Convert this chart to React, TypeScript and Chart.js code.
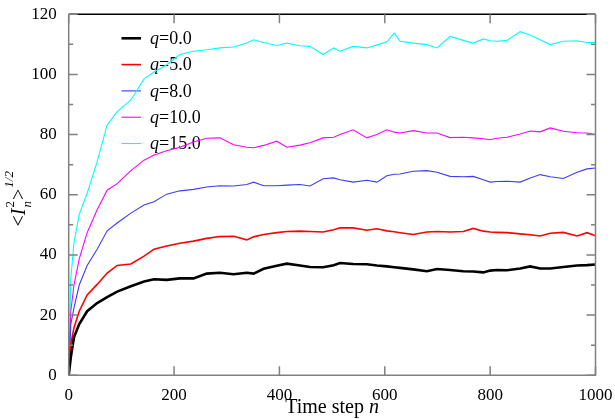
import React, { useEffect, useRef } from "react";
import { Chart, registerables } from "chart.js";

Chart.register(...registerables);

// time steps at which the curves were read
const steps = [
  0, 4, 10, 20, 35, 54, 73, 92, 118, 143, 162, 186, 211, 237, 262, 287, 313, 338, 351, 370,
  395, 414, 439, 458, 483, 503, 515, 540, 566, 585, 604, 618, 629, 654, 680, 699, 724, 749,
  768, 787, 800, 813, 832, 857, 876, 895, 914, 939, 965, 984, 1000,
];

const q0 = [
  0, 6, 12.6, 17, 21.3, 24, 26, 27.8, 29.6, 31.2, 31.9, 31.7, 32.2, 32.2, 33.8, 34.1, 33.6, 34.1,
  33.8, 35.4, 36.4, 37.1, 36.5, 36.0, 35.9, 36.6, 37.3, 37.0, 36.9, 36.5, 36.2, 35.9, 35.7, 35.2,
  34.6, 35.3, 35.0, 34.6, 34.5, 34.2, 34.8, 35.0, 34.9, 35.5, 36.2, 35.5, 35.5, 36.0, 36.5, 36.6,
  36.8,
];
const q5 = [
  0, 10.4, 15.8, 21.3, 26.7, 30.2, 34.0, 36.5, 37.0, 39.6, 41.9, 43.0, 43.9, 44.6, 45.5, 46.1,
  46.2, 45.0, 46.0, 46.8, 47.4, 47.8, 47.9, 47.8, 47.6, 48.4, 49.0, 49.0, 48.2, 48.7, 48.0, 47.7,
  47.4, 46.8, 47.6, 47.8, 47.6, 47.8, 48.8, 47.9, 47.6, 47.5, 47.4, 47.0, 46.7, 46.3, 47.2, 47.5,
  46.3, 47.4, 46.4,
];
const q8 = [
  0, 17, 22.4, 30, 36.5, 41.9, 48.0, 50.6, 53.9, 56.6, 57.7, 60.2, 61.3, 61.8, 62.6, 63.0, 62.9,
  63.4, 64.2, 63.0, 63.0, 63.2, 63.4, 62.9, 65.3, 65.6, 65.0, 64.2, 64.8, 64.2, 66.3, 66.8, 66.9,
  67.8, 68.0, 67.5, 66.1, 66.0, 66.1, 65.0, 64.2, 64.4, 64.5, 64.2, 65.6, 66.7, 66.0, 65.4, 67.5,
  68.6, 68.9,
];
const q10 = [
  0, 21.3, 30, 38.7, 47.4, 55, 61.5, 63.7, 68, 71.5, 73.2, 74.6, 75.8, 77.5, 78.8, 78.9, 76.6,
  75.8, 75.6, 76.4, 77.8, 75.8, 76.5, 77.3, 78.9, 79.1, 80.0, 81.6, 78.9, 80.0, 81.6, 80.8, 80.5,
  81.3, 80.5, 80.5, 79.0, 79.1, 78.9, 78.6, 78.3, 78.8, 79.1, 80.2, 81.2, 80.9, 82.2, 81.1, 80.6,
  80.5, 80.0,
];
const q15 = [
  0, 32.2, 44.1, 53.5, 60.5, 71, 83.2, 87.6, 91.5, 98.5, 100.8, 103.2, 106.6, 107.7, 108.2, 108.8,
  109.1, 110.4, 111.5, 110.6, 109.6, 110.4, 109.5, 109.3, 106.6, 108.8, 107.7, 109.3, 108.8, 109.8,
  110.8, 113.7, 111.0, 110.4, 109.9, 108.8, 112.6, 111.3, 110.4, 111.8, 111.2, 111.0, 111.3, 114.2,
  113.1, 111.5, 109.9, 111.0, 111.2, 110.6, 110.6,
];

const qValues = [0, 5, 8, 10, 15];
const seriesValues = [q0, q5, q8, q10, q15];
const seriesColors = ["#000000", "#ff0000", "#3c3cff", "#ff00ff", "#00ffff"];
const seriesWidths = [2.6, 1.6, 1.1, 1.1, 1.1];

const xTicks = [0, 200, 400, 600, 800, 1000];
const yTicks = [0, 20, 40, 60, 80, 100, 120];

const SERIF = '"Liberation Serif"';
const AXIS_GREY = "#808080";

const framePlugin = {
  id: "frame",
  afterDraw(chart: any) {
    const { ctx, chartArea: a, scales } = chart;
    const xs = scales.x;
    const ys = scales.y;
    ctx.save();
    ctx.lineWidth = 1.5;
    ctx.strokeStyle = AXIS_GREY;
    ctx.beginPath();
    ctx.moveTo(a.left, a.top);
    ctx.lineTo(a.left, a.bottom);
    ctx.lineTo(a.right, a.bottom);
    ctx.lineTo(a.right, a.top);
    ctx.stroke();
    ctx.strokeStyle = "#000";
    ctx.beginPath();
    ctx.moveTo(a.left, a.top);
    ctx.lineTo(a.right, a.top);
    ctx.stroke();

    // inward ticks
    ctx.strokeStyle = AXIS_GREY;
    ctx.beginPath();
    xTicks.forEach((v) => {
      const px = xs.getPixelForValue(v);
      ctx.moveTo(px, a.bottom);
      ctx.lineTo(px, a.bottom - 9);
      ctx.moveTo(px, a.top);
      ctx.lineTo(px, a.top + 9);
    });
    for (let v = 0; v <= 120; v += 10) {
      const py = ys.getPixelForValue(v);
      const len = v % 20 === 0 ? 9 : 4.5;
      ctx.moveTo(a.left, py);
      ctx.lineTo(a.left + len, py);
      ctx.moveTo(a.right, py);
      ctx.lineTo(a.right - len, py);
    }
    ctx.stroke();

    // x title
    ctx.fillStyle = "#000";
    ctx.textBaseline = "alphabetic";
    const cx = (a.left + a.right) / 2;
    ctx.font = `20px ${SERIF}`;
    const t1 = "Time step ";
    const w1 = ctx.measureText(t1).width;
    ctx.font = `italic 20px ${SERIF}`;
    const w2 = ctx.measureText("n").width;
    const x0 = cx - (w1 + w2) / 2;
    ctx.font = `20px ${SERIF}`;
    ctx.textAlign = "left";
    ctx.fillText(t1, x0, 413);
    ctx.font = `italic 20px ${SERIF}`;
    ctx.fillText("n", x0 + w1, 413);

    // y title  <I_n^2>^{1/2}
    ctx.translate(25, (a.top + a.bottom) / 2 + 4);
    ctx.rotate(-Math.PI / 2);
    const big = `20px ${SERIF}`;
    const bigI = `italic 20px ${SERIF}`;
    const sm = `13px ${SERIF}`;
    const smI = `italic 13px ${SERIF}`;
    ctx.font = big;
    const wLt = ctx.measureText("<").width;
    const wGt = ctx.measureText(">").width;
    ctx.font = bigI;
    const wI = ctx.measureText("I").width;
    ctx.font = sm;
    const w2s = ctx.measureText("2").width;
    ctx.font = smI;
    const wn = ctx.measureText("n").width;
    const wh = ctx.measureText("1/2").width;
    const wSub = Math.max(w2s, wn) + 1;
    const total = wLt + wI + 1 + wSub + wGt + 1 + wh;
    let x = -total / 2;
    ctx.font = big;
    ctx.fillText("<", x, 0);
    x += wLt;
    ctx.font = bigI;
    ctx.fillText("I", x, 0);
    x += wI + 1;
    ctx.font = sm;
    ctx.fillText("2", x, -11);
    ctx.font = smI;
    ctx.fillText("n", x, 6);
    x += wSub;
    ctx.font = big;
    ctx.fillText(">", x, 0);
    x += wGt + 1;
    ctx.font = smI;
    ctx.fillText("1/2", x, -12);
    ctx.restore();
  },
};

const legendPlugin = {
  id: "qLegend",
  beforeDatasetsDraw(chart: any) {
    const { ctx } = chart;
    ctx.save();
    qValues.forEach((q, i) => {
      const y = 38.3 + i * 26.3;
      ctx.strokeStyle = seriesColors[i];
      ctx.lineWidth = seriesWidths[i];
      ctx.beginPath();
      ctx.moveTo(121.5, y);
      ctx.lineTo(141, y);
      ctx.stroke();
      ctx.fillStyle = "#000";
      ctx.textBaseline = "middle";
      ctx.textAlign = "left";
      ctx.font = `italic 18px ${SERIF}`;
      ctx.fillText("q", 150, y + 1);
      const wq = ctx.measureText("q").width;
      ctx.font = `18px ${SERIF}`;
      ctx.fillText("=" + q.toFixed(1), 150 + wq, y + 1);
    });
    ctx.restore();
  },
};

export default function App() {
  const canvasRef = useRef<HTMLCanvasElement | null>(null);

  useEffect(() => {
    if (!canvasRef.current) return;
    const ctx = canvasRef.current.getContext("2d");
    if (!ctx) return;

    const chart = new Chart(ctx, {
      type: "line",
      data: {
        datasets: seriesValues.map((vals, i) => ({
          label: "q=" + qValues[i].toFixed(1),
          data: steps.map((s, k) => ({ x: s, y: vals[k] })),
          borderColor: seriesColors[i],
          backgroundColor: seriesColors[i],
          borderWidth: seriesWidths[i],
          pointRadius: 0,
          tension: 0,
          fill: false,
        })),
      },
      options: {
        animation: false,
        responsive: true,
        maintainAspectRatio: false,
        layout: { padding: { top: 7, right: 19.5, left: 0, bottom: 0 } },
        plugins: { legend: { display: false }, tooltip: { enabled: false } },
        scales: {
          x: {
            type: "linear",
            min: 0,
            max: 1000,
            afterBuildTicks: (s: any) => {
              s.ticks = xTicks.map((v) => ({ value: v }));
            },
            afterFit: (s: any) => {
              s.height = 43.7;
            },
            ticks: {
              color: "#000",
              font: { family: SERIF, size: 17 },
              padding: 2,
              maxRotation: 0,
              autoSkip: false,
              callback: (v: any) => String(v),
            },
            grid: { display: false },
            border: { display: false },
          },
          y: {
            type: "linear",
            min: 0,
            max: 120,
            afterBuildTicks: (s: any) => {
              s.ticks = yTicks.map((v) => ({ value: v }));
            },
            afterFit: (s: any) => {
              s.width = 68.7;
            },
            ticks: {
              color: "#000",
              font: { family: SERIF, size: 17 },
              padding: 4,
              autoSkip: false,
              callback: (v: any) => String(v),
            },
            grid: { display: false },
            border: { display: false },
          },
        },
      },
      plugins: [legendPlugin, framePlugin],
    } as any);
    return () => chart.destroy();
  }, []);

  return (
    <div style={{ position: "fixed", left: 0, top: 0, width: 615, height: 419, background: "#fff" }}>
      <canvas ref={canvasRef} />
    </div>
  );
}
